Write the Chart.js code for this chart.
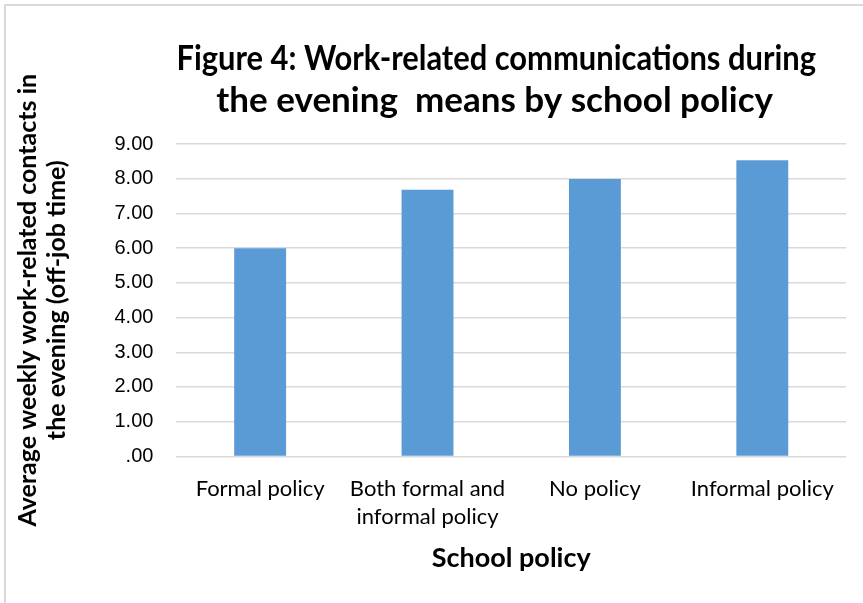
<!DOCTYPE html>
<html>
<head>
<meta charset="utf-8">
<script src="https://cdn.jsdelivr.net/npm/chart.js@4/dist/chart.umd.min.js"></script>
<style>
  html, body { margin: 0; padding: 0; background: #fff; overflow: hidden; }
  #frame { position: absolute; left: 4px; top: 4px; width: 900px; height: 700px;
           border-left: 2px solid #d9d9d9; border-top: 2px solid #d9d9d9; }
  #wrap { position: absolute; left: 0; top: 0; width: 863px; height: 603px; }
</style>
</head>
<body>
<div id="frame"></div>
<div id="wrap"><canvas id="chart"></canvas></div>
<script>
'use strict';

// Data
const categories = [
   'Formal policy',
   ['Both formal and', 'informal policy'],
   'No policy',
   'Informal policy'
];
const means = [6.00, 7.68, 7.99, 8.53];
const yTicks = [0, 1, 2, 3, 4, 5, 6, 7, 8, 9];

// trailing no-break spaces nudge the centred title a little to the left
const pad = '\u00a0\u00a0\u00a0\u00a0';
const titleLines = [
   'Figure 4: Work-related communications during' + pad,
   'the evening  means by school policy' + pad
];
const yTitle = ['Average weekly work-related contacts in', 'the evening (off-job time)'];
const xTitle = 'School policy';

const labelFont = 'Lato, "Open Sans", sans-serif';

//Format tick like Excel: ".00" for zero
function fmtTick(v) {
   return v === 0 ? '.00' : v.toFixed(2);
}

const ctx = document.getElementById('chart');
new Chart(ctx, {
   type: 'bar',
   data: {
      labels: categories,
      datasets: [{
         data: means,
         backgroundColor: '#5b9bd5',
         borderWidth: 0,
         categoryPercentage: 1,
         barPercentage: 0.31
      }]
   },
   options: {
      responsive: true,
      maintainAspectRatio: false,
      animation: false,
      layout: { padding: { left: 14, right: 17, top: 38, bottom: 29 } },
      plugins: {
         legend: { display: false },
         tooltip: { enabled: false },
         title: {
            display: true,
            fullSize: false,
            text: titleLines,
            color: '#000',
            font: { family: labelFont, size: 35, weight: 'bold', lineHeight: 1.2 },
            padding: { top: 0, bottom: 22 }
         }
      },
      scales: {
         x: {
            grid: { display: false },
            border: { display: false },
            ticks: {
               color: '#000',
               font: { family: labelFont, size: 22, lineHeight: 1.3 },
               maxRotation: 0,
               autoSkip: false,
               padding: 10
            },
            title: {
               display: true,
               text: xTitle,
               color: '#000',
               font: { family: labelFont, size: 27, weight: 'bold' },
               padding: { top: 0, bottom: 0 }
            }
         },
         y: {
            min: 0,
            max: 9,
            afterBuildTicks: axis => {
               axis.ticks = yTicks.map(v => ({ value: v }));
            },
            grid: { color: '#d9d9d9', lineWidth: 1.5, drawTicks: false },
            border: { display: false },
            ticks: {
               color: '#000',
               font: { family: '"Liberation Sans", Arial, sans-serif', size: 20 },
               padding: 23,
               callback: v => fmtTick(v)
            },
            title: {
               display: true,
               text: yTitle,
               color: '#000',
               font: { family: labelFont, size: 25, weight: 'bold', lineHeight: 1.15 },
               padding: { top: 0, bottom: 20 }
            }
         }
      }
   }
});
</script>
</body>
</html>
